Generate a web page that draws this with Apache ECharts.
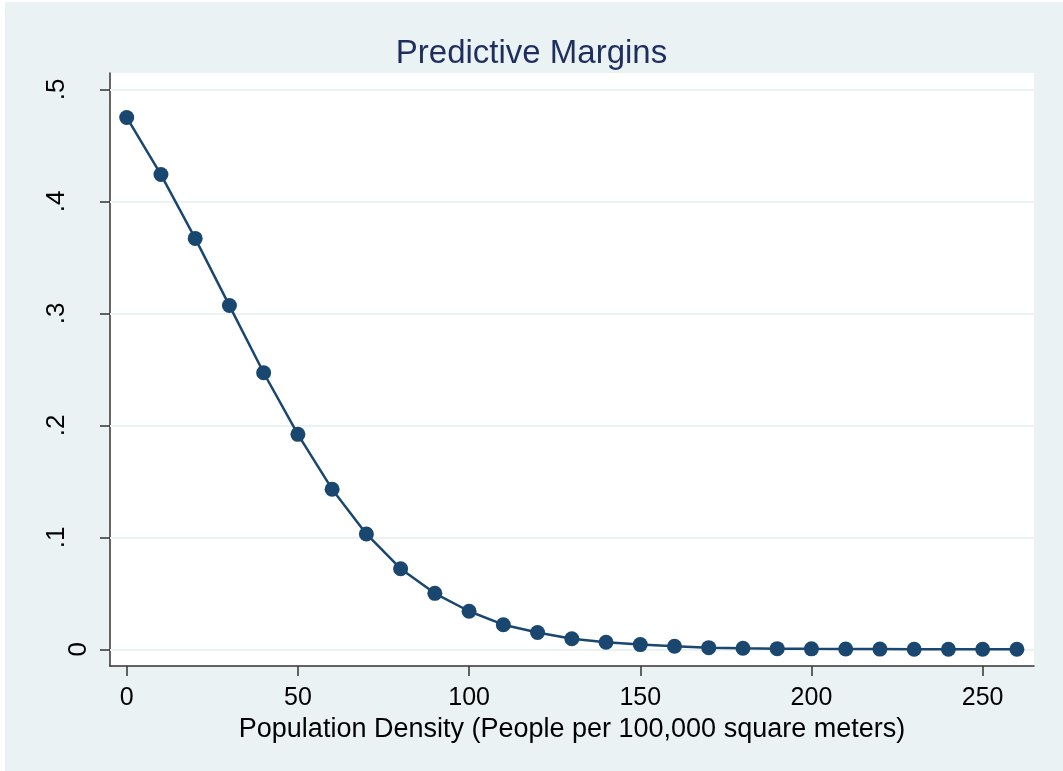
<!DOCTYPE html>
<html>
<head>
<meta charset="utf-8">
<script src="https://cdn.jsdelivr.net/npm/echarts@6/dist/echarts.min.js"></script>
<style>
  html, body { margin: 0; padding: 0; background: #ffffff; }
  #chart { width: 1063px; height: 771px; }
</style>
</head>
<body>
<div id="chart"></div>
<script>
const density = [0, 10, 20, 30, 40, 50, 60, 70, 80, 90, 100, 110, 120, 130, 140, 150, 160, 170, 180, 190, 200, 210, 220, 230, 240, 250, 260];
const margins = [0.475, 0.424, 0.367, 0.307, 0.247, 0.192, 0.143, 0.103, 0.072, 0.050, 0.034, 0.022, 0.015, 0.0095, 0.0063, 0.0042, 0.0027, 0.0015, 0.0010, 0.0006, 0.0004, 0.0003, 0.0002, 0.0001, 0.0001, 0.00005, 0.00003];
const xTicks = [0, 50, 100, 150, 200, 250];
const yTicks = [0, 0.1, 0.2, 0.3, 0.4, 0.5];
const titleText = 'Predictive Margins';
const xTitle = 'Population Density (People per 100,000 square meters)';

const FONT = 'Liberation Sans, Arial, sans-serif';
const NAVY = '#1a476f';
const chart = echarts.init(document.getElementById('chart'), null, { renderer: 'canvas' });

chart.setOption({
  backgroundColor: '#ffffff',
  animation: false,
  graphic: [{
    type: 'rect', z: -100, silent: true,
    shape: { x: 5, y: 2, width: 1058, height: 769 },
    style: { fill: '#eaf2f3' }
  }],
  title: {
    text: titleText,
    left: 'center',
    top: 32,
    textStyle: { fontFamily: FONT, fontSize: 33, fontWeight: 'normal', color: '#1e2f5e' }
  },
  grid: {
    left: 110, right: 29, top: 73, bottom: 105,
    show: true, backgroundColor: '#ffffff', borderWidth: 0,
    containLabel: false
  },
  xAxis: {
    type: 'value',
    min: -4.88, max: 265.0,
    name: xTitle,
    nameLocation: 'middle',
    nameGap: 47,
    nameTextStyle: { fontFamily: FONT, fontSize: 27, color: '#000' },
    axisLine: { show: true, onZero: false, lineStyle: { color: '#333', width: 1.5 } },
    axisTick: { show: true, length: 10, customValues: xTicks, lineStyle: { color: '#333', width: 1.5 } },
    axisLabel: { customValues: xTicks, fontFamily: FONT, fontSize: 25, color: '#000', margin: 20 },
    splitLine: { show: false }
  },
  yAxis: {
    type: 'value',
    min: -0.0149, max: 0.5147,
    axisLine: { show: true, onZero: false, lineStyle: { color: '#333', width: 1.5 } },
    axisTick: { show: true, length: 10, customValues: yTicks, lineStyle: { color: '#333', width: 1.5 } },
    axisLabel: {
      customValues: yTicks, rotate: 90, fontFamily: FONT, fontSize: 26, color: '#000', margin: 18,
      formatter: function (v) {
        if (v === 0) return '{z|0}';
        return '{n|' + String(Math.round(v * 10) / 10).replace(/^0/, '') + '}';
      },
      rich: {
        z: { fontFamily: FONT, fontSize: 26, color: '#000' },
        n: { fontFamily: FONT, fontSize: 26, color: '#000', padding: [0, 0, 22, 0] }
      }
    },
    splitLine: { show: false }
  },
  series: [{
    type: 'line',
    data: density.map((d, i) => [d, margins[i]]),
    symbol: 'circle',
    symbolSize: 15,
    lineStyle: { color: NAVY, width: 2.5 },
    itemStyle: { color: NAVY },
    z: 5,
    markLine: {
      silent: true,
      symbol: 'none',
      label: { show: false },
      lineStyle: { color: '#eaf2f3', width: 2, type: 'solid' },
      data: yTicks.map(v => ({ yAxis: v })),
      z: 1
    }
  }]
});
</script>
</body>
</html>
